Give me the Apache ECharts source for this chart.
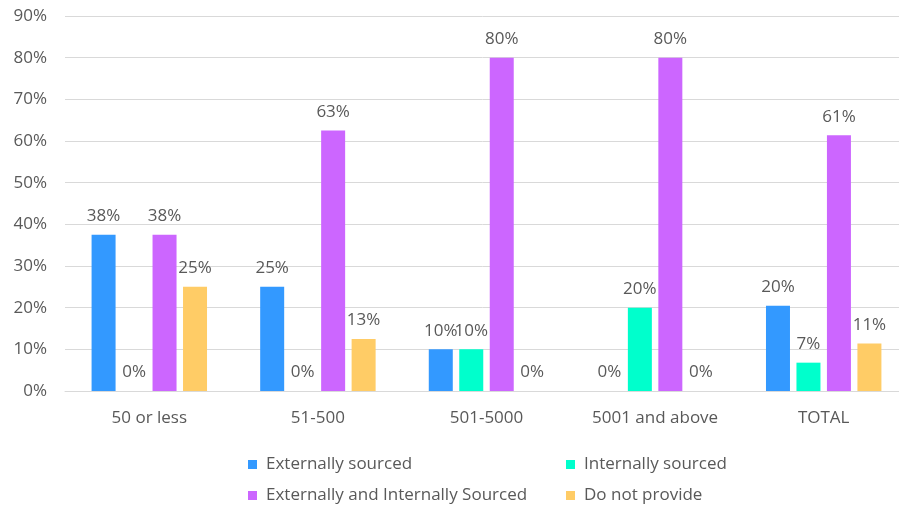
<!DOCTYPE html>
<html>
<head>
<meta charset="utf-8">
<script src="https://cdn.jsdelivr.net/npm/echarts@6/dist/echarts.min.js"></script>
<style>
  html, body { margin: 0; padding: 0; background: #fff; }
  #chart { width: 899px; height: 507px; }
</style>
</head>
<body>
<div id="chart"></div>
<script>
// Company size groups on the x axis
const categories = ['50 or less', '51-500', '501-5000', '5001 and above', 'TOTAL'];

// Share of respondents (%) per sourcing approach
const externallySourced = [37.5, 25, 10, 0, 20.45];
const internallySourced = [0, 0, 10, 20, 6.8];
const externallyAndInternally = [37.5, 62.5, 80, 80, 61.4];
const doNotProvide = [25, 12.5, 0, 0, 11.4];

const seriesNames = ['Externally sourced', 'Internally sourced', 'Externally and Internally Sourced', 'Do not provide'];
const seriesColors = ['#3399FF', '#00FFCC', '#CC66FF', '#FFCC66'];
const seriesValues = [externallySourced, internallySourced, externallyAndInternally, doNotProvide];

const FONT = '"Open Sans", "Noto Sans", sans-serif';
const TEXT_COLOR = '#595959';

// Legend is laid out as a 2x2 block: one legend component per entry
const legendSlots = [
  { left: 243, top: 451 },
  { left: 561, top: 451 },
  { left: 243, top: 482 },
  { left: 561, top: 482 }
];

const chart = echarts.init(document.getElementById('chart'), null, { renderer: 'canvas' });

chart.setOption({
  backgroundColor: '#ffffff',
  animation: false,
  textStyle: { fontFamily: FONT },
  // plot band runs slightly past the right edge so the gridlines reach it
  grid: { left: 65, right: -9, top: 16, bottom: 116, containLabel: false, outerBoundsMode: 'none' },
  legend: seriesNames.map((name, i) => ({
    data: [name],
    left: legendSlots[i].left,
    top: legendSlots[i].top,
    itemWidth: 9, itemHeight: 9,
    icon: 'rect',
    textStyle: { fontFamily: FONT, fontSize: 17, color: TEXT_COLOR, padding: [0, 0, 0, 4] }
  })),
  xAxis: {
    type: 'category',
    data: categories,
    axisLine: { lineStyle: { color: '#D9D9D9', width: 1 } },
    axisTick: { show: false },
    axisLabel: { fontFamily: FONT, fontSize: 17, color: TEXT_COLOR, margin: 19 }
  },
  yAxis: {
    type: 'value',
    min: 0, max: 90, interval: 10,
    axisLine: { show: false },
    axisTick: { show: false },
    splitLine: { lineStyle: { color: '#D9D9D9', width: 1 } },
    axisLabel: { fontFamily: FONT, fontSize: 17, color: TEXT_COLOR, margin: 18, formatter: '{value}%' }
  },
  series: seriesNames.map((name, i) => ({
    name: name,
    type: 'bar',
    data: seriesValues[i],
    barWidth: 24,
    barGap: '27%',
    itemStyle: { color: seriesColors[i] },
    label: {
      show: true,
      position: 'top',
      distance: 10,
      fontFamily: FONT,
      fontSize: 17,
      color: TEXT_COLOR,
      formatter: p => Math.round(p.value) + '%'
    }
  }))
});
</script>
</body>
</html>
